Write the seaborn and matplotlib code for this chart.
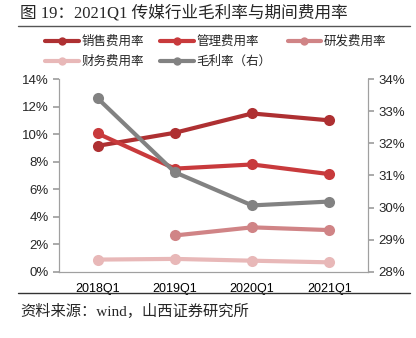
import numpy as np
import pandas as pd
import matplotlib
matplotlib.use("Agg")
import matplotlib.pyplot as plt
import seaborn as sns
from matplotlib.lines import Line2D
from matplotlib.ticker import FuncFormatter, MultipleLocator

sns.set_theme(style="white")
plt.rcParams['font.family'] = ['Liberation Sans', 'Noto Sans CJK SC', 'DejaVu Sans']

categories = ["2018Q1", "2019Q1", "2020Q1", "2021Q1"]
sales = [9.15, 10.1, 11.5, 11.0]
admin = [10.05, 7.5, 7.8, 7.1]
rnd = [np.nan, 2.65, 3.24, 3.04]
finance = [0.9, 0.95, 0.82, 0.7]
gross = [33.4, 31.1, 30.07, 30.19]

names = ["销售费用率", "管理费用率", "研发费用率", "财务费用率"]
colors = ["#AE3032", "#C83A3C", "#D08486", "#E8B8B8"]
gross_name = "毛利率（右）"
gross_color = "#828282"

rows = []
for n, vals in zip(names, [sales, admin, rnd, finance]):
    for i, v in enumerate(vals):
        rows.append({"x": i, "v": v, "s": n})
df = pd.DataFrame(rows).dropna()
dg = pd.DataFrame({"x": range(len(categories)), "v": gross})

fig = plt.figure(figsize=(4.16, 3.38), dpi=100)
ax = fig.add_axes([59/416, 1-272/338, (368-59)/416, (272-79)/338])
ax2 = ax.twinx()

sns.lineplot(data=df, x="x", y="v", hue="s", hue_order=names, palette=colors,
             marker="o", markersize=8, linewidth=3, markeredgewidth=0,
             ax=ax, legend=False)
sns.lineplot(data=dg, x="x", y="v", color=gross_color, marker="o", markersize=8,
             linewidth=3, markeredgewidth=0, ax=ax2, legend=False)

ax.set_xlim(-0.5, 3.5)
ax.set_ylim(0, 14)
ax2.set_ylim(28, 34)
ax.yaxis.set_major_locator(MultipleLocator(2))
ax2.yaxis.set_major_locator(MultipleLocator(1))
ax.yaxis.set_major_formatter(FuncFormatter(lambda v, p: f"{v:.0f}%"))
ax2.yaxis.set_major_formatter(FuncFormatter(lambda v, p: f"{v:.0f}%"))
ax.set_xticks([0, 1, 2, 3])
ax.set_xticklabels(categories)
ax.set_xticks([-0.5, 0.5, 1.5, 2.5, 3.5], minor=True)
ax.set_xlabel("")
ax.set_ylabel("")
ax2.set_ylabel("")

for a in (ax, ax2):
    a.spines["top"].set_visible(False)
    for sp in ["left", "right", "bottom"]:
        a.spines[sp].set_color("#A0A0A0")
        a.spines[sp].set_linewidth(0.8)

ax.tick_params(axis="x", which="major", length=0, labelsize=9, pad=8, colors="#000000")
ax.tick_params(axis="x", which="minor", length=4, color="#A0A0A0", direction="out")
ax.tick_params(axis="y", labelsize=9.5, length=4, color="#A0A0A0", direction="out", left=True)
ax2.tick_params(axis="y", labelsize=9.5, length=4, color="#A0A0A0", direction="out", right=True)

# Title
fig.text(20/416, 1-13/338, "图 19：2021Q1 传媒行业毛利率与期间费用率",
         fontsize=12, family=['Liberation Serif', 'Noto Sans CJK SC'], va="center", ha="left")
fig.add_artist(Line2D([18/416, 410/416], [1-26/338, 1-26/338], color="#555555", lw=1))

# Legend (row-major order via column-major filling)
h = [Line2D([0], [0], color=c, lw=3, marker="o", markersize=6, markeredgewidth=0) for c in colors]
hg = Line2D([0], [0], color=gross_color, lw=3, marker="o", markersize=6, markeredgewidth=0)
handles = [h[0], h[3], h[1], hg, h[2]]
labels = [names[0], names[3], names[1], gross_name, names[2]]
fig.legend(handles, labels, loc="upper left", bbox_to_anchor=(40/416, 1-30/338), ncol=3,
           frameon=False, handlelength=2.7, handletextpad=0.2,
           columnspacing=1.3, labelspacing=0.55, borderaxespad=0,
           prop={'family': ['Noto Sans CJK SC'], 'size': 9})

# Source
fig.add_artist(Line2D([18/416, 410/416], [1-293/338, 1-293/338], color="#333333", lw=1))
fig.text(20/416, 1-311/338, "资料来源：wind，山西证券研究所",
         fontsize=11, family=['Liberation Serif', 'Noto Sans CJK SC'], va="center", ha="left")

fig.savefig("out.png", dpi=100)
